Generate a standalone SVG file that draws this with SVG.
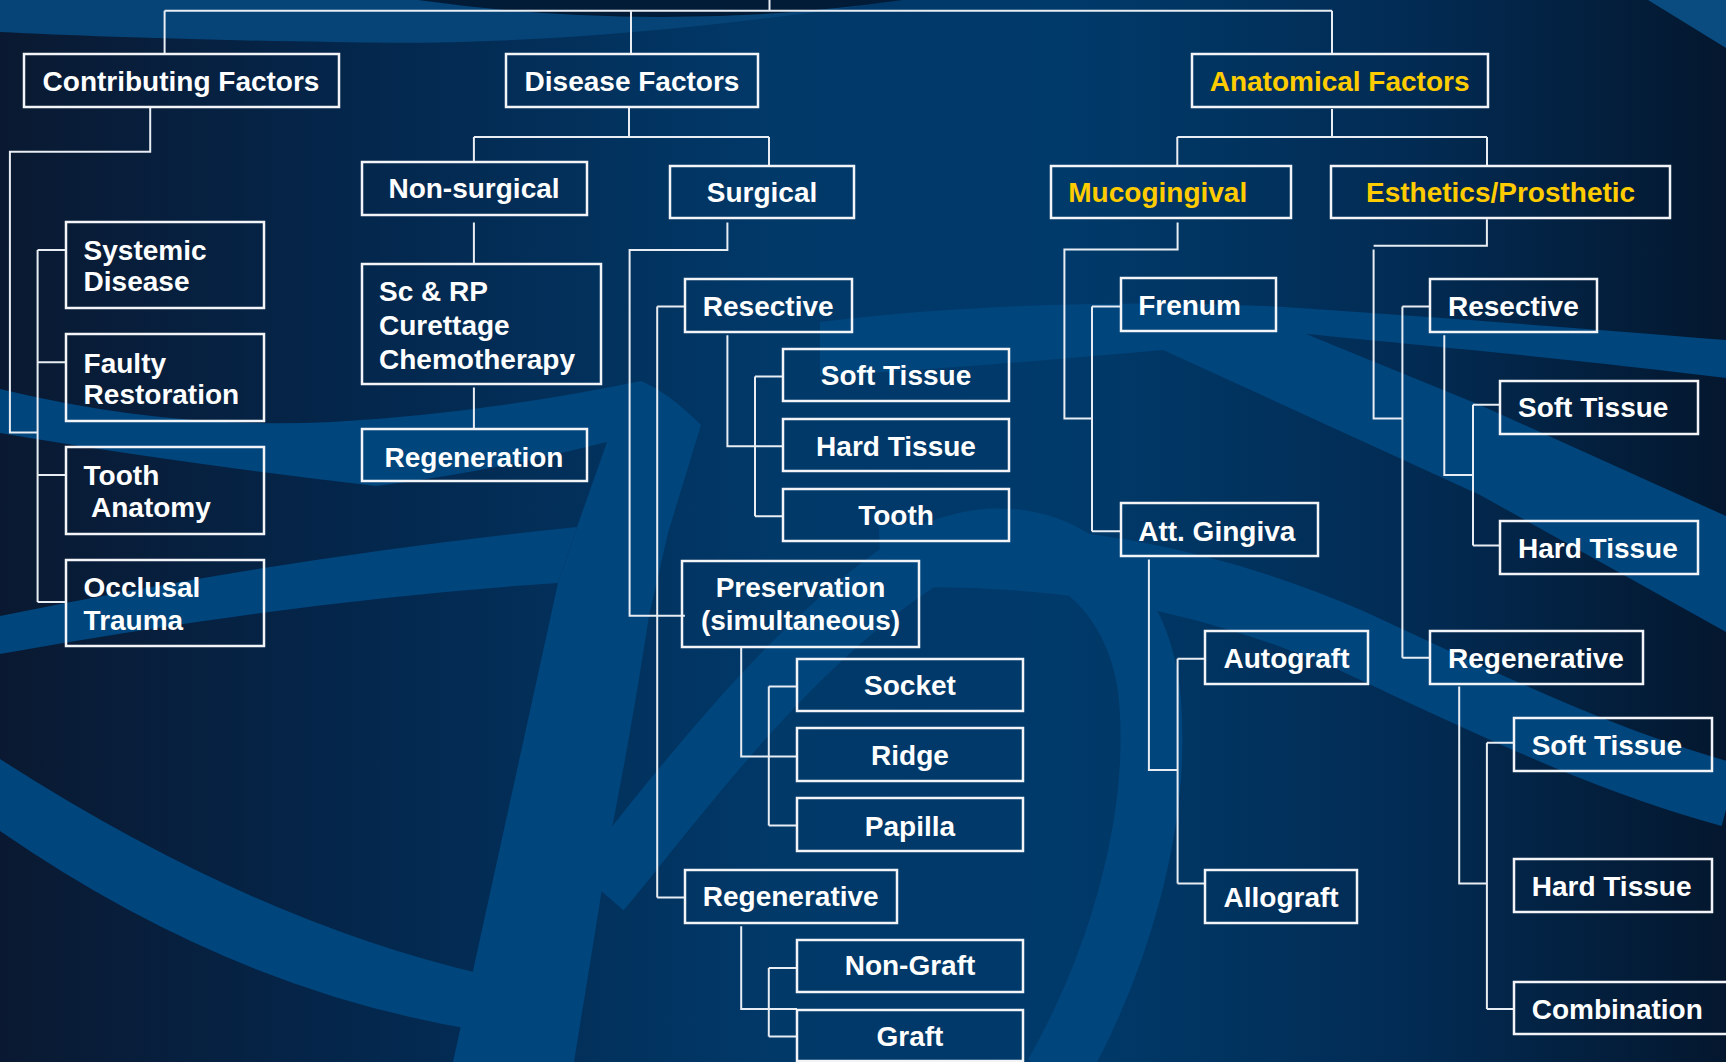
<svg xmlns="http://www.w3.org/2000/svg" width="1726" height="1062" viewBox="0 0 1726 1062">
<defs>
<linearGradient id="bg" x1="0" y1="0" x2="1726" y2="0" gradientUnits="userSpaceOnUse">
<stop offset="0" stop-color="#0a1931"/>
<stop offset="0.2" stop-color="#04264b"/>
<stop offset="0.45" stop-color="#013969"/>
<stop offset="0.62" stop-color="#003a6a"/>
<stop offset="0.82" stop-color="#022b53"/>
<stop offset="1" stop-color="#04172e"/>
</linearGradient>
<style>
.box{fill:none;stroke:#f2f4f7;stroke-width:2.5}
.t{font-family:"Liberation Sans",Arial,sans-serif;font-weight:bold;font-size:28px;fill:#ffffff}
.y{fill:#ffcc00}
.c{text-anchor:middle}
.ln{fill:none;stroke:#e8edf3;stroke-width:2}
.band{fill:#00457c}
.bs{fill:none;stroke:#00457c}
</style>
</defs>
<g id="background">
<rect width="1726" height="1062" fill="url(#bg)"/>
<path fill="#064478" d="M0,0 H903 C760,20 560,48 330,42 C200,40 80,36 0,32 Z"/>
<path fill="#021b36" d="M418,0 Q660,34 903,0 Z"/>
<path fill="#0a4b80" d="M1648,0 H1726 V48 Z"/>
<path class="band" d="M0,389 Q170,430 331,422 Q480,414 641,381 Q668,392 701,425 L668,533 L649,616 Q630,740 607,853 L599,908 L574,1062 L453,1062 L558,583 L577,527 L607,442 Q490,472 376,486 Q170,462 0,433 Z"/>
<path class="band" d="M0,616 Q300,555 577,527 L558,583 Q300,600 0,654 Z"/>
<path class="band" d="M0,759 Q250,920 482,974 L476,1030 Q230,990 0,831 Z"/>
<path class="bs" stroke-width="62" d="M600,890 C660,820 780,650 919,560 C1040,500 1140,580 1150,700 C1160,820 1120,960 1055,1075"/>
<path class="bs" stroke-width="64" d="M880,556 C1050,550 1200,575 1350,640 C1480,700 1600,760 1730,795"/>
<path class="band" d="M820,322 C950,305 1150,298 1300,308 S1600,330 1726,340 L1726,378 C1600,362 1420,345 1306,334 L1480,405 L1726,516 L1726,632 L1480,495 L1163,350 C1050,360 930,370 820,376 Z"/>
</g>
<g id="connectors">
<path class="ln" stroke-width="2.5" d="M769.5,0 V10.8 M164.6,10.8 H1332 M164.6,10.8 V54 M631,10.8 V54 M1332,10.8 V54"/>
<path class="ln" d="M150.2,108 V151.7 H9.9 V432.6 H37.6 M37.6,250 V602 M37.6,250 H66 M37.6,362.2 H66 M37.6,474.9 H66 M37.6,602 H66"/>
<path class="ln" d="M629,108 V137 M473.9,137 H769 M473.9,137 V162 M769,137 V166"/>
<path class="ln" d="M473.9,222.5 V264 M473.9,387.6 V429"/>
<path class="ln" d="M727.4,222.5 V250.1 H629.6 V615.8 H684.9 M657.2,306.5 V897.4 M657.2,306.5 H685.2 M657.2,897.4 H685.2"/>
<path class="ln" d="M727.4,335.2 V446.2 H783.2 M755,376.6 V516.3 M755,376.6 H783.2 M755,516.3 H783.2"/>
<path class="ln" d="M741.2,646 V756.6 H797 M768.8,686.4 V825.6 M768.8,686.4 H797 M768.8,825.6 H797"/>
<path class="ln" d="M741.2,926.2 V1009 H797 M768.8,968.1 V1036.6 M768.8,968.1 H797 M768.8,1036.6 H797"/>
<path class="ln" d="M1332,109 V137 M1177.3,137 H1487 M1177.3,137 V166 M1487,137 V166"/>
<path class="ln" d="M1177.6,222.5 V249.6 H1064.4 V418.6 H1092 M1092,306.5 V531.2 M1092,306.5 H1120.7 M1092,531.2 H1120.7"/>
<path class="ln" d="M1148.9,559.4 V770.1 H1177.6 M1177.6,658.8 V883.6 M1177.6,658.8 H1205.2 M1177.6,883.6 H1205.2"/>
<path class="ln" d="M1486.9,219.2 V245.7 H1373.6 M1373.6,249.6 V418.6 H1402.4 M1402.4,306.5 V657.7 M1402.4,306.5 H1430.5 M1402.4,657.7 H1430.5"/>
<path class="ln" d="M1444.3,335.2 V474.9 H1473 M1473,404.8 V545.6 M1473,404.8 H1500.7 M1473,545.6 H1500.7"/>
<path class="ln" d="M1459.2,686.4 V883.6 H1486.9 M1486.9,742.8 V1009 M1486.9,742.8 H1514.5 M1486.9,1009 H1514.5"/>
</g>
<g id="n-contributing"><rect class="box" x="24" y="54" width="315" height="53"/><text class="t c" x="181" y="91">Contributing Factors</text></g>
<g id="n-disease"><rect class="box" x="506" y="54" width="252" height="53"/><text class="t c" x="632" y="91">Disease Factors</text></g>
<g id="n-anatomical"><rect class="box" x="1192" y="54" width="296" height="53"/><text class="t c y" x="1339.6" y="91">Anatomical Factors</text></g>
<g id="n-nonsurgical"><rect class="box" x="362" y="162" width="225" height="53"/><text class="t c" x="474" y="198">Non-surgical</text></g>
<g id="n-surgical"><rect class="box" x="670" y="166" width="184" height="52"/><text class="t c" x="762" y="201.5">Surgical</text></g>
<g id="n-mucogingival"><rect class="box" x="1051" y="166" width="240" height="52"/><text class="t y" x="1068.3" y="201.5">Mucogingival</text></g>
<g id="n-esthetics"><rect class="box" x="1331" y="166" width="339" height="52"/><text class="t c y" x="1500.6" y="201.5">Esthetics/Prosthetic</text></g>
<g id="n-systemic"><rect class="box" x="66" y="222" width="198" height="86"/><text class="t" x="83.6" y="260">Systemic</text><text class="t" x="83.6" y="291">Disease</text></g>
<g id="n-faulty"><rect class="box" x="66" y="334" width="198" height="87"/><text class="t" x="83.6" y="372.5">Faulty</text><text class="t" x="83.6" y="404">Restoration</text></g>
<g id="n-tooth-anatomy"><rect class="box" x="66" y="447" width="198" height="87"/><text class="t" x="83.6" y="485">Tooth</text><text class="t" x="91" y="517">Anatomy</text></g>
<g id="n-occlusal"><rect class="box" x="66" y="560" width="198" height="86"/><text class="t" x="83.6" y="597">Occlusal</text><text class="t" x="83.6" y="629.5">Trauma</text></g>
<g id="n-scrp"><rect class="box" x="362" y="264" width="239" height="120"/><text class="t" x="379" y="301">Sc &amp; RP</text><text class="t" x="379" y="335">Curettage</text><text class="t" x="379" y="369">Chemotherapy</text></g>
<g id="n-regeneration"><rect class="box" x="362" y="429" width="225" height="52"/><text class="t c" x="474" y="466.6">Regeneration</text></g>
<g id="n-resective-l"><rect class="box" x="685" y="279" width="167" height="53"/><text class="t" x="702.8" y="316">Resective</text></g>
<g id="n-soft-l"><rect class="box" x="783" y="349" width="226" height="52"/><text class="t c" x="896" y="384.5">Soft Tissue</text></g>
<g id="n-hard-l"><rect class="box" x="783" y="419" width="226" height="52"/><text class="t c" x="896" y="455.5">Hard Tissue</text></g>
<g id="n-tooth"><rect class="box" x="783" y="489" width="226" height="52"/><text class="t c" x="896" y="525">Tooth</text></g>
<g id="n-preservation"><rect class="box" x="682" y="561" width="237" height="86"/><text class="t c" x="800.5" y="597">Preservation</text><text class="t c" x="800.5" y="629.5">(simultaneous)</text></g>
<g id="n-socket"><rect class="box" x="797" y="659" width="226" height="52"/><text class="t c" x="910" y="695">Socket</text></g>
<g id="n-ridge"><rect class="box" x="797" y="728" width="226" height="53"/><text class="t c" x="910" y="765">Ridge</text></g>
<g id="n-papilla"><rect class="box" x="797" y="798" width="226" height="53"/><text class="t c" x="910" y="836">Papilla</text></g>
<g id="n-regenerative-l"><rect class="box" x="685" y="870" width="212" height="53"/><text class="t" x="702.8" y="906">Regenerative</text></g>
<g id="n-nongraft"><rect class="box" x="797" y="940" width="226" height="52"/><text class="t c" x="910" y="975">Non-Graft</text></g>
<g id="n-graft"><rect class="box" x="797" y="1010" width="226" height="51"/><text class="t c" x="910" y="1046">Graft</text></g>
<g id="n-frenum"><rect class="box" x="1121" y="278" width="155" height="53"/><text class="t" x="1138.2" y="315">Frenum</text></g>
<g id="n-attgingiva"><rect class="box" x="1121" y="503" width="197" height="53"/><text class="t" x="1138.2" y="541">Att. Gingiva</text></g>
<g id="n-autograft"><rect class="box" x="1205" y="631" width="163" height="53"/><text class="t" x="1223.5" y="668">Autograft</text></g>
<g id="n-allograft"><rect class="box" x="1205" y="870" width="152" height="53"/><text class="t" x="1223.5" y="907">Allograft</text></g>
<g id="n-resective-r"><rect class="box" x="1430" y="279" width="167" height="53"/><text class="t" x="1448" y="316">Resective</text></g>
<g id="n-soft-r1"><rect class="box" x="1500" y="381" width="198" height="53"/><text class="t" x="1518" y="417">Soft Tissue</text></g>
<g id="n-hard-r1"><rect class="box" x="1500" y="521" width="198" height="53"/><text class="t" x="1518" y="558">Hard Tissue</text></g>
<g id="n-regenerative-r"><rect class="box" x="1430" y="631" width="213" height="53"/><text class="t" x="1448" y="668">Regenerative</text></g>
<g id="n-soft-r2"><rect class="box" x="1514" y="718" width="198" height="53"/><text class="t" x="1531.7" y="755">Soft Tissue</text></g>
<g id="n-hard-r2"><rect class="box" x="1514" y="859" width="198" height="53"/><text class="t" x="1531.7" y="896">Hard Tissue</text></g>
<g id="n-combination"><rect class="box" x="1514" y="982" width="220" height="52"/><text class="t" x="1531.7" y="1019">Combination</text></g>
</svg>
